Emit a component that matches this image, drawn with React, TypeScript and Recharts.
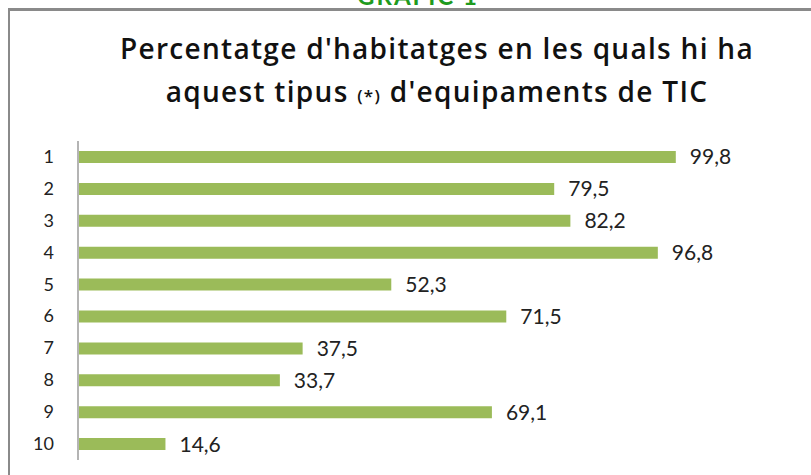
import { BarChart, Bar, XAxis, YAxis, LabelList } from 'recharts';

const categories = ['1', '2', '3', '4', '5', '6', '7', '8', '9', '10'];
const values = [99.8, 79.5, 82.2, 96.8, 52.3, 71.5, 37.5, 33.7, 69.1, 14.6];

const data = categories.map((name, i) => ({ name, value: values[i] }));

const FONT = 'Lato, "Open Sans", sans-serif';
const TITLE_FONT = '"Open Sans", Lato, sans-serif';

const formatValue = (v: number) => v.toFixed(1).replace('.', ',');

const CategoryTick = ({ x, y, payload }: any) => (
  <text
    x={x - 16}
    y={y}
    dy={6}
    textAnchor="end"
    fontSize={18}
    fontFamily={FONT}
    fill="#222"
  >
    {payload.value}
  </text>
);

export default function App() {
  return (
    <div
      style={{
        position: 'absolute',
        left: 0,
        top: 0,
        width: 811,
        height: 475,
        overflow: 'hidden',
        background: '#fff',
        fontFamily: FONT,
      }}
    >
      {/* heading above the frame, mostly out of view */}
      <div
        style={{
          position: 'absolute',
          top: -19,
          left: 0,
          width: 836,
          textAlign: 'center',
          color: '#1e9a1e',
          fontWeight: 700,
          fontSize: 24,
          letterSpacing: 2,
        }}
      >
        GRÀFIC 1
      </div>

      {/* frame */}
      <div
        style={{
          position: 'absolute',
          top: 8,
          left: 8,
          width: 820,
          height: 480,
          borderTop: '3px solid #8a8a8a',
          borderLeft: '2px solid #8a8a8a',
        }}
      />

      <div
        style={{
          position: 'absolute',
          top: 27,
          left: 0,
          width: 874,
          textAlign: 'center',
          fontFamily: TITLE_FONT,
          fontWeight: 600,
          fontSize: 28,
          letterSpacing: 1.3,
          lineHeight: '43px',
          color: '#111',
        }}
      >
        <div>Percentatge d'habitatges en les quals hi ha</div>
        <div>
          aquest tipus <span style={{ fontSize: 17 }}>(*)</span> d'equipaments de TIC
        </div>
      </div>

      <div style={{ position: 'absolute', left: 0, top: 0 }}>
        <BarChart
          width={811}
          height={475}
          data={data}
          layout="vertical"
          margin={{ top: 141, right: 134, bottom: 15, left: 0 }}
          barSize={12}
        >
          <XAxis type="number" domain={[0, 100]} hide />
          <YAxis
            type="category"
            dataKey="name"
            width={78}
            axisLine={{ stroke: '#b4b4b4', strokeWidth: 2 }}
            tickLine={false}
            tick={<CategoryTick />}
            interval={0}
          />
          <Bar dataKey="value" fill="#9bbb59" isAnimationActive={false}>
            <LabelList
              dataKey="value"
              position="right"
              offset={14}
              formatter={(v: any) => formatValue(Number(v))}
              style={{ fontSize: 21, fontFamily: FONT, fill: '#222' }}
            />
          </Bar>
        </BarChart>
      </div>
    </div>
  );
}
